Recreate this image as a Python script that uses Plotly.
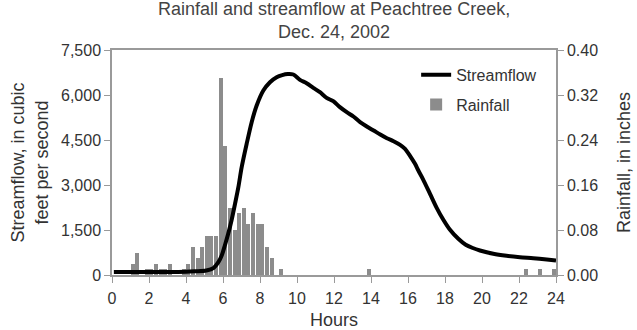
import plotly.graph_objects as go

# Rainfall totals per 15-minute interval (interval start hour, inches); empty intervals omitted
rain_start_hours = [1.00, 1.25, 1.75, 2.00, 2.25, 2.50, 2.75, 3.00, 3.75, 4.00,
                    4.25, 4.50, 4.75, 5.00, 5.25, 5.50, 5.75, 6.00, 6.25, 6.50,
                    6.75, 7.00, 7.25, 7.50, 7.75, 8.00, 8.25, 8.50, 9.00, 13.75,
                    22.25, 23.00, 23.75]
rain_inches = [0.02, 0.04, 0.01, 0.01, 0.02, 0.01, 0.01, 0.02, 0.01, 0.02,
               0.05, 0.03, 0.05, 0.07, 0.07, 0.07, 0.35, 0.23, 0.12, 0.08,
               0.11, 0.12, 0.09, 0.11, 0.09, 0.09, 0.05, 0.03, 0.01, 0.01,
               0.01, 0.01, 0.01]

# Streamflow hydrograph (hour, cubic feet per second)
flow_hours = [0.1, 1.0, 2.0, 3.0, 4.0, 4.5, 5.1, 5.5, 5.75, 5.93, 6.1, 6.28, 6.46,
              6.65, 6.83, 7.01, 7.28, 7.55, 7.82, 8.18, 8.54, 8.9, 9.2, 9.5, 9.8,
              10.16, 10.52, 10.88, 11.24, 11.6, 11.96, 12.32, 12.69, 13.05, 13.41,
              13.77, 14.14, 14.5, 14.86, 15.22, 15.57, 15.84, 16.1, 16.38, 16.56,
              16.8, 17.19, 17.55, 17.91, 18.27, 18.72, 19.12, 19.5, 19.89, 20.61,
              21.33, 22.05, 22.77, 23.5, 24.0]
flow_cfs = [100, 100, 100, 100, 110, 125, 150, 240, 427, 650, 984, 1373, 1817,
            2373, 2927, 3593, 4374, 5094, 5650, 6150, 6427, 6594, 6665, 6700, 6683,
            6506, 6394, 6240, 6094, 5906, 5794, 5594, 5427, 5283, 5093,
            4950, 4816, 4683, 4560, 4460, 4339, 4206, 3983, 3706, 3482,
            3207, 2706, 2239, 1840, 1506, 1206, 1007, 900, 817, 707,
            640, 593, 560, 517, 483]

flow_ticks = [0, 1500, 3000, 4500, 6000, 7500]
rain_ticks = [0.00, 0.08, 0.16, 0.24, 0.32, 0.40]
hour_ticks = list(range(0, 25, 2))

chart_title = "Rainfall and streamflow at Peachtree Creek,<br>Dec. 24, 2002"

bin_hours = 0.25
bar_centers = [h + bin_hours / 2 for h in rain_start_hours]

axis_gray = "#9a9a9a"
text_color = "#333333"
font_family = "Liberation Sans, Arial, Helvetica, sans-serif"

fig = go.Figure()

# Bars on the primary (right-hand) axis so the hydrograph on y2 draws above them
fig.add_trace(go.Bar(
    x=bar_centers, y=rain_inches, width=bin_hours * 0.86,
    name="Rainfall", marker=dict(color="#8c8c8c", line=dict(width=0)),
    yaxis="y", legendrank=2, legendgroup="rain",
))
fig.add_trace(go.Scatter(
    x=flow_hours, y=flow_cfs, mode="lines",
    line=dict(color="black", width=4, shape="spline", smoothing=0.8),
    name="Streamflow", yaxis="y2", legendrank=1, legendgroup="flow",
))

fig.update_layout(
    width=637, height=330,
    margin=dict(l=112, r=81, t=50, b=55),
    paper_bgcolor="white", plot_bgcolor="white",
    font=dict(family=font_family, size=16, color=text_color),
    bargap=0,
    showlegend=True,
    legend=dict(x=0.685, y=0.965, xanchor="left", yanchor="top",
                font=dict(size=16, color=text_color),
                bgcolor="rgba(0,0,0,0)", tracegroupgap=6,
                itemwidth=30),
    annotations=[dict(text=chart_title, xref="paper", yref="paper",
                      x=0.5, y=1.025, xanchor="center", yanchor="bottom",
                      showarrow=False, align="center",
                      font=dict(size=18, color="#444444"))],
    xaxis=dict(range=[0, 24], tickvals=hour_ticks, ticks="outside", ticklen=6,
               tickcolor=axis_gray, showline=True, linecolor=axis_gray, linewidth=1.5,
               mirror=True, showgrid=False, zeroline=False, ticklabelstandoff=2,
               automargin=False,
               title=dict(text="Hours", font=dict(size=18), standoff=10)),
    yaxis=dict(range=[0, 0.40], tickvals=rain_ticks, tickformat=".2f", side="right",
               ticks="outside", ticklen=6, tickcolor=axis_gray, showline=True,
               linecolor=axis_gray, linewidth=1.5, showgrid=False, zeroline=False,
               automargin=False,
               title=dict(text="Rainfall, in inches", font=dict(size=18), standoff=20)),
    yaxis2=dict(range=[0, 7500], tickvals=flow_ticks, tickformat=",d", side="left",
                overlaying="y", ticks="outside", ticklen=6, tickcolor=axis_gray,
                showline=True, linecolor=axis_gray, linewidth=1.5, showgrid=False,
                zeroline=False, automargin=False,
                title=dict(text="Streamflow, in cubic<br>feet per second",
                           font=dict(size=18), standoff=8)),
)

fig.write_html("out.html")
